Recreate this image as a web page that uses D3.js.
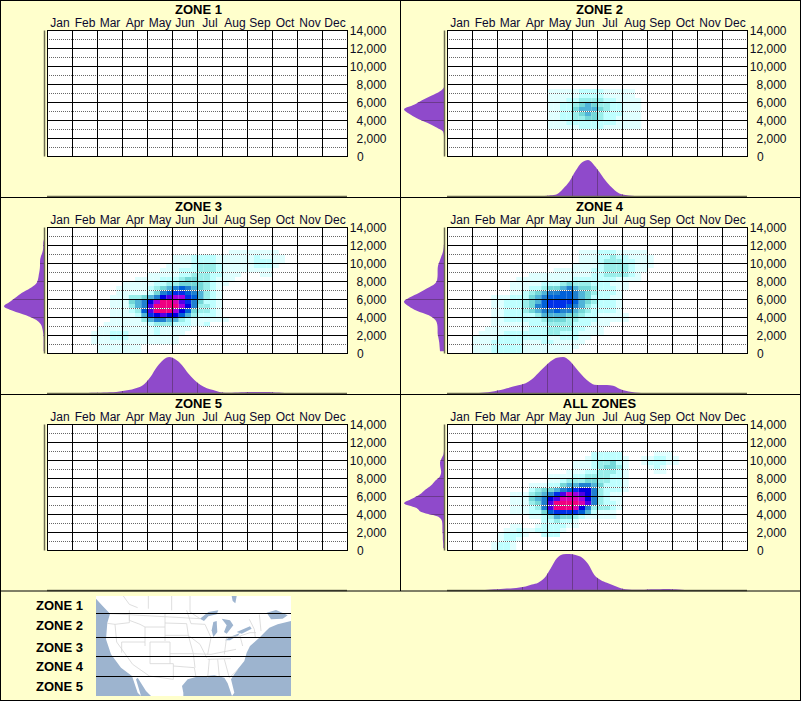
<!DOCTYPE html>
<html>
<head>
<meta charset="utf-8">
<script src="https://d3js.org/d3.v7.min.js"></script>
<style>
  html, body { margin: 0; padding: 0; background: #ffffcc; }
  svg { display: block; }
  text { font-family: "Liberation Sans", Arial, sans-serif; }
</style>
</head>
<body>
<svg width="801" height="701"></svg>
<script>
  var zoneNames = ["ZONE 1", "ZONE 2", "ZONE 3", "ZONE 4", "ZONE 5", "ALL ZONES"];
  var legendNames = ["ZONE 1", "ZONE 2", "ZONE 3", "ZONE 4", "ZONE 5"];
  var months = ["Jan", "Feb", "Mar", "Apr", "May", "Jun", "Jul", "Aug", "Sep", "Oct", "Nov", "Dec"];
  var elevationTicks = [0, 2000, 4000, 6000, 8000, 10000, 12000, 14000];

  // heat cells: [band from the top (500 each), first bin (4 per month), levels as hex digits]
  var heatZone1 = [];
  var heatZone2 = [
    [13, 16, "11111222211111"],
    [14, 16, "11111222211111"],
    [15, 16, "111223333221111"],
    [16, 16, "112234543322111"],
    [17, 16, "112245554322111"],
    [18, 16, "112234543222111"],
    [19, 16, "112233443221111"],
    [20, 16, "111222222221111"],
    [21, 16, "111112222111111"]
  ];
  var heatZone3 = [
    [5, 29, "11111111"],
    [6, 20, "111222211111121111"],
    [7, 20, "111222211111122211"],
    [8, 19, "111123332111112221"],
    [9, 18, "111222333211111111"],
    [10, 16, "111112233322111"],
    [10, 34, "11"],
    [11, 14, "1111222344332111"],
    [12, 12, "11111223344443211"],
    [13, 11, "11111234567654321"],
    [14, 11, "11111246788765321"],
    [15, 10, "111334569abb875321"],
    [16, 10, "1114569bddca864221"],
    [17, 10, "111356addddb963321"],
    [18, 10, "111237adddb9743321"],
    [19, 10, "11112589a997532221"],
    [20, 10, "1111135665532111111"],
    [21, 9, "1111111233322211"],
    [21, 25, "2"],
    [22, 8, "111111111211111"],
    [23, 7, "111222111121111"],
    [24, 7, "11122211111111"],
    [25, 7, "11111111111111"],
    [26, 8, "1111111"],
    [27, 8, "1111111"]
  ];
  var heatZone4 = [
    [5, 21, "11122211111"],
    [6, 21, "111223221111"],
    [7, 21, "111233322111"],
    [8, 20, "1111233332111"],
    [9, 17, "111111223333211"],
    [10, 13, "111111111122333321"],
    [11, 11, "11111111122222221111"],
    [12, 10, "1111122234333222111"],
    [13, 10, "1112234456544322211"],
    [14, 10, "112345667765432221"],
    [15, 7, "111222456777765422211"],
    [16, 7, "112223457888875432221"],
    [17, 7, "112223467888765322221"],
    [18, 7, "112223456676654322221"],
    [19, 7, "1122222355554432211111"],
    [20, 7, "1122222234443322211111"],
    [21, 7, "1111112223333222111"],
    [22, 6, "1111111222333322111"],
    [23, 5, "11112222222332221111"],
    [24, 4, "1111222222221122211"],
    [25, 4, "111222221112211111"],
    [26, 4, "11122222111111111"],
    [27, 4, "1112222211111111"]
  ];
  var heatZone5 = [];
  var heatAll = [
    [6, 23, "22222"],
    [6, 33, "111"],
    [7, 22, "1222221"],
    [7, 31, "112211"],
    [8, 20, "111233421"],
    [8, 31, "122211"],
    [9, 20, "111234431"],
    [9, 32, "121"],
    [10, 19, "1112233321"],
    [10, 33, "11"],
    [11, 16, "1111223333221"],
    [12, 16, "1123334433221"],
    [13, 13, "1112245566542221"],
    [14, 13, "2344567899632221"],
    [15, 10, "11134568acba963211"],
    [16, 10, "1114569acccb963211"],
    [17, 10, "111346addddca63221"],
    [18, 10, "111236adddc9633321"],
    [19, 10, "11122478888752111"],
    [20, 13, "11235443211111"],
    [21, 15, "223221"],
    [22, 10, "11"],
    [22, 14, "1222211"],
    [23, 9, "1121"],
    [23, 13, "122221"],
    [24, 8, "12221"],
    [24, 15, "222"],
    [25, 8, "1221"],
    [26, 7, "1221"],
    [27, 7, "1221"]
  ];
  var heatByZone = [heatZone1, heatZone2, heatZone3, heatZone4, heatZone5, heatAll];

  // marginal density by month bin, one line per month
  var monthDensityZone2 = [
    0, 0, 0, 0,  0, 0, 0, 0,  0, 0, 0, 0,  0, 0, 0, 0,
    0.02, 0.05, 0.2, 0.4,
    0.7, 0.93, 1, 0.85,
    0.62, 0.38, 0.2, 0.07,
    0.03, 0.01, 0, 0,
    0, 0, 0, 0,  0, 0, 0, 0,  0, 0, 0, 0,  0, 0, 0, 0
  ];
  var monthDensityZone3 = [
    0, 0, 0, 0,
    0, 0, 0, 0.005,
    0.01, 0.015, 0.02, 0.04,
    0.07, 0.1, 0.15, 0.25,
    0.45, 0.72, 0.92, 1,
    0.93, 0.78, 0.55, 0.36,
    0.22, 0.13, 0.08, 0.03,
    0.01, 0.01, 0.015, 0.02,
    0.025, 0.03, 0.03, 0.025,
    0.015, 0.01, 0, 0,
    0, 0, 0, 0,  0, 0, 0, 0
  ];
  var monthDensityZone4 = [
    0, 0, 0, 0,
    0, 0.01, 0.02, 0.05,
    0.08, 0.13, 0.18, 0.22,
    0.27, 0.38, 0.55, 0.72,
    0.88, 0.98, 1, 0.9,
    0.7, 0.5, 0.33, 0.23,
    0.22, 0.22, 0.2, 0.12,
    0.06, 0.03, 0.01, 0,
    0, 0, 0, 0,  0, 0, 0, 0,  0, 0, 0, 0,  0, 0, 0, 0
  ];
  var monthDensityAll = [
    0, 0, 0, 0,
    0, 0, 0.01, 0.02,
    0.03, 0.04, 0.05, 0.07,
    0.1, 0.15, 0.2, 0.33,
    0.6, 0.88, 0.99, 1,
    0.97, 0.9, 0.72, 0.42,
    0.28, 0.2, 0.13, 0.06,
    0.02, 0.01, 0.01, 0.01,
    0.02, 0.02, 0.03, 0.03,
    0.02, 0.01, 0, 0,
    0, 0, 0, 0,  0, 0, 0, 0
  ];
  var monthDensityByZone = [null, monthDensityZone2, monthDensityZone3, monthDensityZone4, null, monthDensityAll];

  // marginal density by elevation band, top band first
  var elevDensityZone2 = [
    0, 0, 0, 0, 0, 0, 0, 0, 0, 0, 0, 0, 0,
    0.1, 0.32, 0.55, 0.75, 1, 0.87, 0.68, 0.42, 0.2, 0.02,
    0, 0, 0, 0, 0
  ];
  var elevDensityZone3 = [
    0, 0, 0, 0.02, 0.02, 0.04, 0.08, 0.1, 0.1, 0.11, 0.13, 0.15, 0.2, 0.35,
    0.55, 0.7, 0.85, 1, 0.78, 0.45, 0.2, 0.08, 0.04, 0.02, 0.01, 0.01, 0.01, 0.01
  ];
  var elevDensityZone4 = [
    0, 0, 0, 0, 0.01, 0.03, 0.07, 0.11, 0.15, 0.16, 0.16, 0.17, 0.23, 0.42,
    0.62, 0.85, 1, 0.88, 0.68, 0.38, 0.22, 0.17, 0.16, 0.16, 0.14, 0.12, 0.11, 0.1
  ];
  var elevDensityAll = [
    0, 0, 0, 0, 0, 0, 0.01, 0.06, 0.1, 0.09, 0.07, 0.1, 0.22, 0.32,
    0.47, 0.6, 0.8, 1, 0.7, 0.55, 0.14, 0.05, 0.04, 0.04, 0.03, 0.03, 0.02, 0.02
  ];
  var elevDensityByZone = [null, elevDensityZone2, elevDensityZone3, elevDensityZone4, null, elevDensityAll];

  var levelColors = ["#e0ffff", "#bfffff", "#99eeea", "#74d8d8", "#50b4d8", "#2080d0", "#0060d8",
    "#0030e8", "#0000e0", "#5000e8", "#a000e0", "#d800b0", "#f00080"];

  // key map, in map pixels (585 x 300, shown at a third)
  var mapLand = [[0, 8], [20, 30], [42, 53], [34, 80], [30, 130], [45, 175], [75, 215], [108, 240], [125, 290],
    [135, 300], [120, 250], [125, 245], [150, 285], [165, 300], [262, 300], [262, 290], [258, 270], [275, 250],
    [300, 243], [330, 240], [355, 238], [385, 245], [395, 262], [408, 300], [415, 290], [405, 250], [425, 220],
    [445, 195], [452, 170], [462, 150], [490, 125], [510, 105], [520, 95], [545, 85], [585, 75], [585, 0], [0, 0]];
  var mapWater = [
    [[312, 68], [337, 48], [367, 43], [362, 55], [337, 61], [324, 75]],
    [[352, 78], [362, 75], [364, 108], [352, 123], [347, 103]],
    [[377, 68], [402, 73], [412, 88], [392, 113], [384, 108], [392, 88]],
    [[387, 133], [402, 123], [432, 111], [427, 118], [402, 133]],
    [[422, 108], [462, 91], [467, 98], [437, 113]],
    [[407, 0], [422, 0], [418, 22], [410, 15]],
    [[512, 50], [540, 42], [575, 58], [560, 68], [525, 70]]
  ];
  var mapBorders = [
    [[42, 53], [312, 68]], [[82, 0], [100, 25], [125, 35]], [[157, 0], [157, 38]], [[227, 0], [227, 43]],
    [[282, 0], [282, 48], [312, 68]], [[34, 82], [57, 85], [100, 80], [100, 55]], [[100, 43], [100, 73], [132, 85], [147, 93], [147, 150]],
    [[147, 93], [207, 93], [207, 135]], [[207, 53], [207, 93]], [[207, 81], [272, 83]], [[207, 118], [277, 118]],
    [[162, 138], [222, 138], [222, 203]], [[162, 138], [162, 203]], [[147, 138], [77, 138]], [[57, 85], [62, 138], [110, 205]],
    [[77, 138], [77, 170]], [[222, 173], [292, 173]], [[162, 203], [232, 203], [232, 250]], [[232, 210], [295, 215], [300, 243]],
    [[277, 118], [292, 173], [297, 215]], [[272, 83], [277, 118], [312, 145], [332, 185]], [[292, 173], [345, 175], [420, 160]],
    [[272, 43], [285, 83], [327, 85], [345, 125], [335, 175]], [[345, 125], [392, 122], [385, 175]], [[392, 122], [432, 120], [440, 150]],
    [[432, 120], [462, 110], [480, 110]], [[335, 190], [405, 188]], [[340, 190], [335, 245]], [[365, 190], [370, 242]], [[385, 190], [400, 245]],
    [[400, 245], [425, 222]], [[110, 205], [160, 240], [232, 250]], [[460, 70], [475, 100], [478, 125]], [[490, 55], [495, 105]]
  ];

  var plotLeft = 47.5, plotRight = 347.5, plotTop = 30.5, plotBottom = 156.5;
  var panelDx = 400, panelDy = 197;

  var svg = d3.select("svg");
  svg.append("rect").attr("width", 801).attr("height", 701).attr("fill", "#ffffcc");

  var x = d3.scaleLinear().domain([0, 12]).range([plotLeft, plotRight]);
  var y = d3.scaleLinear().domain([0, 14000]).range([plotBottom, plotTop]);
  var monthBand = d3.scaleBand().domain(months).range([plotLeft, plotRight]);
  var heatColor = d3.scaleOrdinal().domain(d3.range(1, 14)).range(levelColors);
  var monthDensityY = d3.scaleLinear().domain([0, 1]).range([196, 160]);
  var elevDensityX = d3.scaleLinear().domain([0, 1]).range([44, 4]);

  var monthArea = d3.area()
    .curve(d3.curveMonotoneX)
    .x(function (d, i) { return x((i + 0.5) / 4); })
    .y0(monthDensityY(0))
    .y1(function (d) { return monthDensityY(d); });

  var elevArea = d3.area()
    .curve(d3.curveMonotoneY)
    .y(function (d, i) { return y(14000 - 500 * i - 250); })
    .x0(elevDensityX(0))
    .x1(function (d) { return elevDensityX(d); });

  zoneNames.forEach(function (name, idx) {
    var g = svg.append("g")
      .attr("transform", "translate(" + (idx % 2) * panelDx + "," + Math.floor(idx / 2) * panelDy + ")");

    g.append("text")
      .attr("x", 198.5 + (idx % 2))
      .attr("y", 14)
      .attr("text-anchor", "middle")
      .style("font-size", "13px").style("font-weight", "bold")
      .text(name);

    g.append("rect")
      .attr("x", plotLeft).attr("y", plotTop)
      .attr("width", plotRight - plotLeft).attr("height", plotBottom - plotTop)
      .attr("fill", "#fff");

    // heat cells
    var cells = [];
    heatByZone[idx].forEach(function (row) {
      row[2].split("").forEach(function (ch, k) {
        var level = parseInt(ch, 16);
        if (level > 0) cells.push({ band: row[0], bin: row[1] + k, level: level });
      });
    });
    g.selectAll(".cell").data(cells).enter().append("rect")
      .attr("class", "cell")
      .attr("x", function (d) { return x(d.bin / 4); })
      .attr("width", function (d) { return x((d.bin + 1) / 4) - x(d.bin / 4); })
      .attr("y", function (d) { return y(14000 - 500 * d.band); })
      .attr("height", function (d) { return y(14000 - 500 * (d.band + 1)) - y(14000 - 500 * d.band); })
      .attr("fill", function (d) { return heatColor(d.level); });

    // dotted lines at the odd thousands, white under grey; start on a whole pixel so the dots stay sharp
    var odd = elevationTicks.slice(0, 7).map(function (t) { return t + 1000; });
    ["#fff", "#666"].forEach(function (col, n) {
      g.selectAll(".dot" + n).data(odd).enter().append("line")
        .attr("class", "dot" + n)
        .attr("x1", plotLeft - 0.5).attr("x2", plotRight)
        .attr("y1", y).attr("y2", y)
        .attr("stroke", col)
        .attr("stroke-dasharray", n ? "1,1" : null);
    });

    g.selectAll(".hgrid").data(elevationTicks).enter().append("line")
      .attr("class", "hgrid")
      .attr("x1", plotLeft - 0.5).attr("x2", plotRight + 0.5)
      .attr("y1", y).attr("y2", y)
      .attr("stroke", "#000");
    g.selectAll(".vgrid").data(d3.range(13)).enter().append("line")
      .attr("class", "vgrid")
      .attr("x1", x).attr("x2", x)
      .attr("y1", plotTop).attr("y2", plotBottom)
      .attr("stroke", "#000");

    // month labels
    var topAxis = g.append("g")
      .attr("transform", "translate(0," + plotTop + ")")
      .call(d3.axisTop(monthBand).tickSize(0).tickPadding(4));
    topAxis.select(".domain").remove();
    topAxis.selectAll("text")
      .style("font", '12px "Liberation Sans", Arial, sans-serif')
      .attr("fill", "#0c0830");

    // elevation labels, 0 sits under the left of the wider labels
    var rightAxis = g.append("g")
      .attr("transform", "translate(" + plotRight + ",0)")
      .call(d3.axisRight(y).tickValues(elevationTicks).tickSize(0).tickFormat(d3.format(",")));
    rightAxis.select(".domain").remove();
    rightAxis.selectAll("text")
      .style("font", '12px "Liberation Sans", Arial, sans-serif')
      .attr("fill", "#0c0c20")
      .attr("text-anchor", function (d) { return d === 0 ? "start" : "end"; })
      .attr("x", function (d) { return d === 0 ? 9.5 : 39; });

    // marginal densities
    var monthData = monthDensityByZone[idx];
    if (monthData) {
      g.append("clipPath").attr("id", "mclip" + idx).append("path").attr("d", monthArea(monthData));
      g.append("path").attr("d", monthArea(monthData)).attr("fill", "#8f4acb");
      g.selectAll(".mline").data(d3.range(13)).enter().append("line")
        .attr("class", "mline")
        .attr("x1", x).attr("x2", x)
        .attr("y1", monthDensityY(1)).attr("y2", monthDensityY(0))
        .attr("stroke", "#6b3a8c")
        .attr("clip-path", "url(#mclip" + idx + ")");
    }
    var elevData = elevDensityByZone[idx];
    if (elevData) {
      g.append("clipPath").attr("id", "eclip" + idx).append("path").attr("d", elevArea(elevData));
      g.append("path").attr("d", elevArea(elevData)).attr("fill", "#8f4acb");
      g.selectAll(".eline").data(elevationTicks).enter().append("line")
        .attr("class", "eline")
        .attr("x1", elevDensityX(1)).attr("x2", elevDensityX(0))
        .attr("y1", y).attr("y2", y)
        .attr("stroke", "#6b3a8c")
        .attr("clip-path", "url(#eclip" + idx + ")");
    }

    // density base lines
    g.append("line")
      .attr("x1", plotLeft - 0.5).attr("x2", plotRight - 0.5)
      .attr("y1", monthDensityY(0) + 0.5).attr("y2", monthDensityY(0) + 0.5)
      .attr("stroke", "#6b6b50").attr("stroke-width", 1.5);
    g.append("line")
      .attr("x1", elevDensityX(0) + 0.5).attr("x2", elevDensityX(0) + 0.5)
      .attr("y1", plotTop).attr("y2", plotBottom)
      .attr("stroke", "#6b6b50").attr("stroke-width", 1.5);
  });

  // key at the bottom: zone names and map with the zone limits
  var legendBaselines = [610, 630, 651.5, 671, 690.5];
  svg.selectAll(".legend").data(legendNames).enter().append("text")
    .attr("class", "legend")
    .attr("x", 83)
    .attr("y", function (d, i) { return legendBaselines[i]; })
    .attr("text-anchor", "end")
    .style("font-size", "13px").style("font-weight", "bold")
    .text(function (d) { return d; });

  var mapX = d3.scaleLinear().domain([0, 585]).range([96, 291]);
  var mapY = d3.scaleLinear().domain([0, 300]).range([596, 696]);
  var mapLine = d3.line().x(function (d) { return mapX(d[0]); }).y(function (d) { return mapY(d[1]); });

  svg.append("rect")
    .attr("x", mapX(0)).attr("y", mapY(0))
    .attr("width", mapX(585) - mapX(0)).attr("height", mapY(300) - mapY(0))
    .attr("fill", "#9db4cf");
  svg.append("path").attr("d", mapLine(mapLand) + "Z").attr("fill", "#fff");
  svg.selectAll(".water").data(mapWater).enter().append("path")
    .attr("class", "water")
    .attr("d", function (d) { return mapLine(d) + "Z"; })
    .attr("fill", "#9db4cf");
  svg.selectAll(".border").data(mapBorders).enter().append("path")
    .attr("class", "border")
    .attr("d", mapLine)
    .attr("fill", "none")
    .attr("stroke", "#d6d6d6")
    .attr("stroke-width", 0.8);

  var zoneLimits = [613.5, 637.5, 656.5, 676.5];
  svg.selectAll(".limit").data(zoneLimits).enter().append("line")
    .attr("class", "limit")
    .attr("x1", mapX(0)).attr("x2", mapX(585))
    .attr("y1", function (d) { return d; }).attr("y2", function (d) { return d; })
    .attr("stroke", "#000");

  // panel frame
  var frameH = [0.5, 197.5, 394.5, 591, 700.5];
  var frameV = [0.5, 800.5];
  svg.selectAll(".frameh").data(frameH).enter().append("line")
    .attr("class", "frameh")
    .attr("x1", 0).attr("x2", 801)
    .attr("y1", function (d) { return d; }).attr("y2", function (d) { return d; })
    .attr("stroke", "#000");
  svg.selectAll(".framev").data(frameV).enter().append("line")
    .attr("class", "framev")
    .attr("x1", function (d) { return d; }).attr("x2", function (d) { return d; })
    .attr("y1", 0).attr("y2", 701)
    .attr("stroke", "#000");
  svg.append("line")
    .attr("x1", 400.5).attr("x2", 400.5).attr("y1", 0).attr("y2", 591)
    .attr("stroke", "#000");
</script>
</body>
</html>
